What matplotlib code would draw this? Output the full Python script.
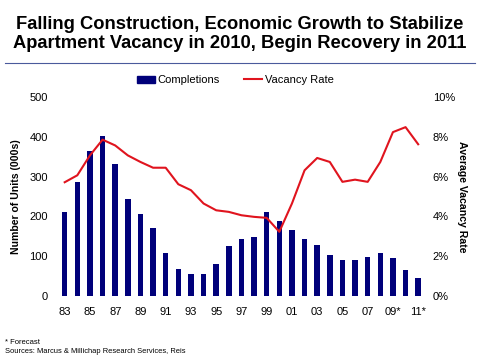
import numpy as np
import matplotlib
matplotlib.use("Agg")
import matplotlib.pyplot as plt
from matplotlib.lines import Line2D
from matplotlib.patches import Patch

plt.rcParams['font.family'] = ['Liberation Sans', 'DejaVu Sans']

# data
years = list(range(1983, 2012))
completions = [211, 286, 364, 401, 331, 244, 206, 171, 108, 69, 56, 56, 81, 126,
               143, 149, 211, 188, 166, 143, 129, 104, 90, 90, 98, 108, 95, 65, 45]
vacancy = [5.72, 6.07, 7.07, 7.86, 7.57, 7.07, 6.74, 6.45, 6.45, 5.62, 5.32, 4.65,
           4.31, 4.23, 4.06, 3.98, 3.93, 3.23, 4.65, 6.32, 6.94, 6.74, 5.74, 5.85,
           5.74, 6.74, 8.24, 8.49, 7.63]
tick_labels = ['83', '85', '87', '89', '91', '93', '95', '97', '99', '01', '03',
               '05', '07', '09*', '11*']

navy = '#00007a'
red = '#e0141e'

fig = plt.figure(figsize=(4.8, 3.61), dpi=100)
ax = fig.add_axes([0.119, 0.180, 0.768, 0.551])
ax2 = ax.twinx()

x = np.arange(len(years))
ax.bar(x, completions, width=0.44, color=navy, zorder=2)
ax2.plot(x, vacancy, color=red, lw=1.5, zorder=3, solid_joinstyle='round')

ax.set_xlim(-0.6, len(years) - 0.4)
ax.set_ylim(0, 500)
ax2.set_ylim(0, 10)
ax.set_yticks(range(0, 501, 100))
ax2.set_yticks(range(0, 11, 2))
ax2.set_yticklabels([f'{v}%' for v in range(0, 11, 2)])
ax.set_xticks(x[::2])
ax.set_xticklabels(tick_labels)

for a in (ax, ax2):
    for s in a.spines.values():
        s.set_visible(False)
    a.tick_params(length=0, labelsize=8)
ax.tick_params(axis='y', pad=6.5)
ax2.tick_params(axis='y', pad=5)
ax.tick_params(axis='x', pad=8)
ax.set_zorder(ax2.get_zorder() - 1)
ax2.patch.set_visible(False)

ax.set_ylabel('Number of Units (000s)', fontsize=7.6, fontweight='bold', labelpad=6.5)
ax2.set_ylabel('Average Vacancy Rate', fontsize=7.6, fontweight='bold',
               rotation=270, labelpad=9)

fig.text(0.5, 0.955, 'Falling Construction, Economic Growth to Stabilize\n'
         'Apartment Vacancy in 2010, Begin Recovery in 2011',
         ha='center', va='top', fontsize=13.2, fontweight='bold', linespacing=1.15)
fig.add_artist(Line2D([0.01, 0.99], [0.825, 0.825], color='#4a5a9c', lw=0.8))

handles = [Patch(color=navy), Line2D([], [], color=red, lw=1.5)]
fig.legend(handles, ['Completions', 'Vacancy Rate'], loc='center',
           bbox_to_anchor=(0.49, 0.778), ncol=2, frameon=False, fontsize=8,
           handlelength=1.6, handleheight=0.6, handletextpad=0.25,
           columnspacing=2.2)

fig.text(0.01, 0.052, '* Forecast', fontsize=5.5, va='center')
fig.text(0.01, 0.025, 'Sources: Marcus & Millichap Research Services, Reis',
         fontsize=5.4, va='center')

fig.savefig('out.png', dpi=100)
